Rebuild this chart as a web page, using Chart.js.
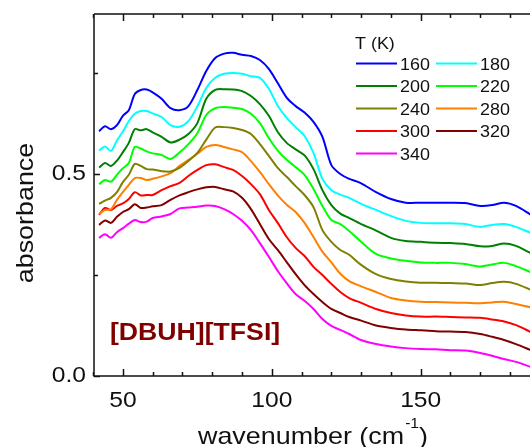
<!DOCTYPE html>
<html>
<head>
<meta charset="utf-8">
<script src="https://cdn.jsdelivr.net/npm/chart.js@4/dist/chart.umd.min.js"></script>
<style>
  html, body { margin: 0; padding: 0; background: #fff; }
  canvas { display: block; }
</style>
</head>
<body>
<canvas id="chart" width="530" height="447"></canvas>
<script>
// wavenumber (cm-1) sample points
const wavenumber = [42, 44, 46, 48, 50, 52, 54, 56, 58, 60, 63, 66, 69, 72, 75, 78, 81, 84, 87, 90,
    93, 96, 99, 102, 105, 108, 111, 114, 117, 120, 123, 126, 130, 135, 140, 145, 150, 155, 160, 165,
    170, 174, 178, 182, 187];

// absorbance per temperature
const abs160 = [.606, .618, .611, .621, .644, .658, .698, .708, .709, .702, .686, .663, .658, .668, .708, .755, .787, .798, .800, .795,
    .792, .782, .760, .725, .689, .668, .652, .629, .592, .522, .500, .488, .477, .455, .438, .429, .429, .429, .429, .428,
    .421, .423, .429, .421, .399];
const abs180 = [.558, .568, .557, .583, .605, .631, .649, .656, .656, .650, .641, .621, .617, .631, .667, .713, .738, .748, .750, .748,
    .742, .738, .711, .669, .639, .616, .594, .552, .488, .460, .449, .441, .426, .411, .396, .384, .379, .378, .378, .376,
    .369, .374, .376, .369, .354];
const abs200 = [.516, .527, .520, .533, .554, .577, .611, .608, .611, .603, .592, .578, .585, .599, .626, .686, .708, .710, .709, .705,
    .693, .673, .644, .604, .577, .561, .546, .512, .460, .423, .402, .391, .376, .360, .342, .334, .332, .330, .329, .327,
    .321, .322, .328, .322, .304];
const abs220 = [.475, .485, .481, .498, .514, .527, .567, .563, .556, .551, .547, .537, .553, .574, .601, .646, .663, .666, .664, .661,
    .649, .626, .589, .558, .535, .517, .498, .463, .421, .386, .376, .359, .332, .302, .291, .285, .281, .280, .280, .277,
    .271, .276, .280, .272, .257];
const abs240 = [.426, .434, .441, .455, .480, .498, .525, .520, .512, .511, .507, .506, .515, .532, .552, .585, .615, .616, .614, .609,
    .599, .574, .545, .515, .493, .470, .448, .418, .361, .332, .312, .300, .275, .252, .240, .234, .231, .231, .230, .229,
    .225, .230, .233, .228, .213];
const abs280 = [.401, .411, .413, .436, .455, .473, .490, .490, .485, .488, .494, .502, .520, .535, .550, .567, .572, .567, .561, .554,
    .532, .505, .475, .447, .424, .406, .379, .344, .308, .281, .253, .235, .222, .208, .193, .187, .184, .183, .182, .181,
    .180, .182, .184, .178, .170];
const abs300 = [.399, .416, .411, .421, .427, .438, .455, .447, .448, .448, .460, .470, .478, .495, .510, .522, .524, .517, .510, .495,
    .475, .450, .411, .379, .344, .317, .297, .270, .250, .228, .208, .193, .181, .166, .156, .150, .147, .147, .146, .145,
    .144, .140, .135, .126, .109];
const abs320 = [.374, .385, .379, .394, .406, .413, .425, .416, .417, .420, .423, .436, .447, .455, .462, .467, .468, .462, .457, .441,
    .413, .376, .339, .312, .282, .252, .225, .203, .183, .166, .156, .146, .137, .125, .119, .115, .113, .111, .110, .109,
    .104, .097, .089, .079, .064];
const abs340 = [.342, .351, .342, .356, .366, .377, .386, .381, .382, .391, .395, .401, .415, .417, .419, .422, .421, .413, .401, .384,
    .361, .329, .295, .260, .230, .203, .186, .166, .141, .124, .114, .104, .089, .079, .073, .069, .067, .066, .064, .063,
    .057, .050, .042, .035, .022];

const temps = ['160', '180', '200', '220', '240', '280', '300', '320', '340'];
const series = [abs160, abs180, abs200, abs220, abs240, abs280, abs300, abs320, abs340];
const colors = ['#0000ff', '#00ffff', '#008000', '#00ff00', '#808000', '#ff8000', '#ff0000', '#800000', '#ff00ff'];

// tick positions and labels
const xTicks = [40, 50, 60, 70, 80, 90, 100, 110, 120, 130, 140, 150, 160, 170, 180];
const xLabels = [50, 100, 150];
const yTicks = [0, 0.25, 0.5, 0.75];
const yLabels = [0, 0.5];

const FONT = '"Liberation Sans", Arial, sans-serif';
const SX = 1.12; // text in the figure is a bit wider than Arial

function wideText(ctx, text, x, y, align, font, sx) {
    ctx.save();
    ctx.font = font;
    ctx.translate(x, y);
    ctx.scale(sx || SX, 1);
    ctx.textAlign = align;
    ctx.textBaseline = 'alphabetic';
    ctx.fillText(text, 0, 0);
    ctx.restore();
    return ctx.measureText ? null : null;
}

function textWidth(ctx, text, font) {
    ctx.save();
    ctx.font = font;
    const w = ctx.measureText(text).width * SX;
    ctx.restore();
    return w;
}

// frame, inward ticks, labels, legend and sample name
const decorations = {
    id: 'decorations',
    afterDraw(chart) {
        const { ctx, chartArea: a, scales: { x, y } } = chart;
        ctx.save();
        ctx.strokeStyle = '#111';
        ctx.lineWidth = 1.5;
        ctx.beginPath();
        ctx.moveTo(a.left, a.top);
        ctx.lineTo(a.right + 2, a.top);
        ctx.moveTo(a.left, a.top);
        ctx.lineTo(a.left, a.bottom);
        ctx.lineTo(a.right + 2, a.bottom);
        xTicks.forEach(v => {
            const px = Math.round(x.getPixelForValue(v)) + 0.5;
            const len = v % 50 === 0 ? 7 : 4;
            ctx.moveTo(px, a.bottom);
            ctx.lineTo(px, a.bottom - len);
            ctx.moveTo(px, a.top);
            ctx.lineTo(px, a.top + len);
        });
        yTicks.forEach(v => {
            const py = Math.round(y.getPixelForValue(v)) + 0.5;
            const len = v % 0.5 === 0 ? 6 : 4;
            ctx.moveTo(a.left, py);
            ctx.lineTo(a.left + len, py);
        });
        ctx.stroke();

        ctx.fillStyle = '#111';
        const tickFont = '22px ' + FONT;
        xLabels.forEach(v => wideText(ctx, String(v), x.getPixelForValue(v), 407, 'center', tickFont));
        yLabels.forEach(v => wideText(ctx, v.toFixed(1), 86, y.getPixelForValue(v) + 6, 'right', tickFont));

        // x title with superscript
        const tFont = '24px ' + FONT;
        const sFont = '14px ' + FONT;
        let tx = 198;
        wideText(ctx, 'wavenumber (cm', tx, 444, 'left', tFont);
        tx += textWidth(ctx, 'wavenumber (cm', tFont);
        wideText(ctx, '-1', tx + 1, 428, 'left', sFont);
        tx += textWidth(ctx, '-1', sFont) + 1;
        wideText(ctx, ')', tx, 444, 'left', tFont);

        // y title
        ctx.save();
        ctx.translate(33, 213);
        ctx.rotate(-Math.PI / 2);
        wideText(ctx, 'absorbance', 0, 0, 'center', tFont);
        ctx.restore();

        // legend
        const legFont = '16px ' + FONT;
        wideText(ctx, 'T (K)', 355, 49, 'left', legFont);
        const rows = [63.5, 86, 108.5, 131, 153.5];
        const cols = [356, 436];
        chart.data.datasets.forEach((ds, i) => {
            const r = rows[Math.floor(i / 2)];
            const c = cols[i % 2];
            ctx.strokeStyle = ds.borderColor;
            ctx.lineWidth = 2;
            ctx.beginPath();
            ctx.moveTo(c, r);
            ctx.lineTo(c + 41, r);
            ctx.stroke();
            ctx.fillStyle = '#111';
            wideText(ctx, ds.label, c + 44, r + 6, 'left', legFont);
        });

        // sample name
        ctx.fillStyle = '#800000';
        wideText(ctx, '[DBUH][TFSI]', 110, 339.5, 'left', 'bold 24px ' + FONT, 1.11);
        ctx.restore();
    }
};

new Chart(document.getElementById('chart'), {
    type: 'line',
    data: {
        datasets: series.map((s, i) => ({
            label: temps[i],
            data: s.map((v, j) => ({ x: wavenumber[j], y: v })),
            borderColor: colors[i],
            borderWidth: 2,
            pointRadius: 0,
            fill: false,
            tension: 0.3
        }))
    },
    options: {
        responsive: false,
        animation: false,
        devicePixelRatio: 1,
        layout: { padding: { top: 14, right: 0, left: 0, bottom: 0 } },
        plugins: { legend: { display: false }, tooltip: { enabled: false } },
        scales: {
            x: {
                type: 'linear',
                min: 40.3,
                max: 186.7,
                grid: { display: false },
                border: { display: false },
                ticks: { display: false },
                afterFit: s => { s.height = 71; }
            },
            y: {
                min: 0,
                max: 0.896,
                grid: { display: false },
                border: { display: false },
                ticks: { display: false },
                afterFit: s => { s.width = 94; }
            }
        }
    },
    plugins: [decorations]
});
</script>
</body>
</html>
